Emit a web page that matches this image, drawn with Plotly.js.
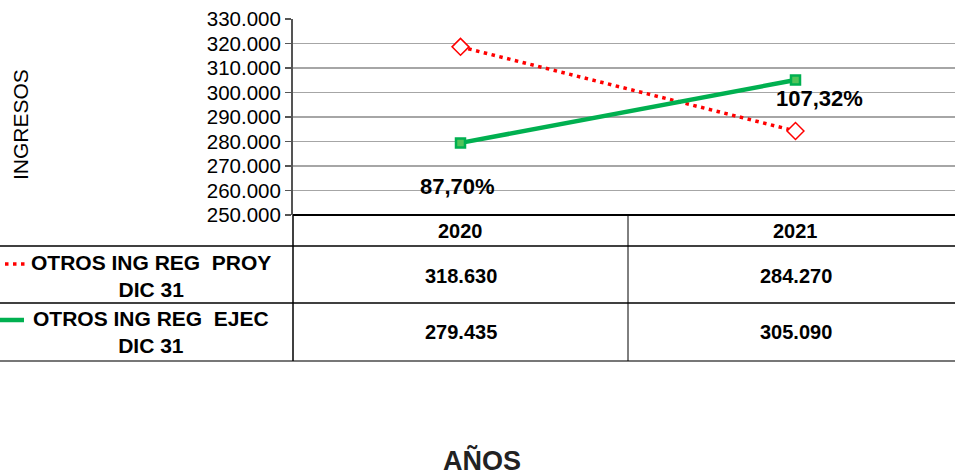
<!DOCTYPE html>
<html>
<head>
<meta charset="utf-8">
<script src="https://cdn.plot.ly/plotly-3.0.1.min.js"></script>
<style>html,body{margin:0;padding:0;background:#fff;}#chart{width:955px;height:475px;}</style>
</head>
<body>
<div id="chart"></div>
<script>
// ---- data ----
const categories = ['2020', '2021'];
const seriesNames = ['OTROS ING REG&nbsp; PROY<br>DIC 31', 'OTROS ING REG&nbsp; EJEC<br>DIC 31'];
const proyValues = [318630, 284270];
const ejecValues = [279435, 305090];
const pctLabels = ['87,70%', '107,32%'];
const yTickValues = [250000, 260000, 270000, 280000, 290000, 300000, 310000, 320000, 330000];

// ---- layout geometry (pixels) ----
const W = 955, H = 475;
const mL = 293, mR = 0, mT = 19, mB = 260;
const pw = W - mL - mR, ph = H - mT - mB;
const px = v => (v - mL) / pw;      // pixel x -> paper
const py = v => (H - mB - v) / ph;  // pixel y -> paper

const fmt = n => n.toString().replace(/\B(?=(\d{3})+(?!\d))/g, '.');
const FONT = 'Liberation Sans, Arial, sans-serif';

const traces = [
  {
    x: categories, y: proyValues, type: 'scatter', mode: 'lines+markers',
    line: {color: '#ff0000', width: 3.5, dash: '3.5px,4.5px'},
    marker: {symbol: 'diamond', size: 13, color: '#ffffff', line: {width: 1.5, color: '#ff0000'}},
    hoverinfo: 'skip', showlegend: false
  },
  {
    x: categories, y: ejecValues, type: 'scatter', mode: 'lines+markers',
    line: {color: '#00b050', width: 4.5},
    marker: {symbol: 'square', size: 9, color: '#52c45a', line: {width: 2.5, color: '#00b050'}},
    hoverinfo: 'skip', showlegend: false
  }
];

const shapes = [];
const annotations = [];
const black = '#000';

// table lines
[246, 303].forEach(y => shapes.push({type: 'line', xref: 'paper', yref: 'paper', x0: px(0), x1: px(W), y0: py(y), y1: py(y), line: {color: black, width: 1.5}}));
shapes.push({type: 'line', xref: 'paper', yref: 'paper', x0: px(0), x1: px(W), y0: py(361), y1: py(361), line: {color: '#777', width: 2}});
shapes.push({type: 'line', xref: 'paper', yref: 'paper', x0: px(293), x1: px(293), y0: py(215), y1: py(361), line: {color: black, width: 1.5}});
shapes.push({type: 'line', xref: 'x', yref: 'paper', x0: 0.5, x1: 0.5, y0: py(215), y1: py(361), line: {color: black, width: 1}});
// bottom axis line
shapes.push({type: 'line', xref: 'paper', yref: 'paper', x0: 0, x1: 1, y0: 0, y1: 0, line: {color: black, width: 2}});

// legend samples
shapes.push({type: 'line', xref: 'paper', yref: 'paper', x0: px(5), x1: px(26), y0: py(264), y1: py(264), line: {color: '#ff0000', width: 3.5, dash: '3.5px,4.5px'}});
shapes.push({type: 'line', xref: 'paper', yref: 'paper', x0: px(0), x1: px(24), y0: py(320), y1: py(320), line: {color: '#00b050', width: 4.5}});

// header row: categories
categories.forEach((c, i) => annotations.push({
  xref: 'x', yref: 'paper', x: i, y: py(231), text: '<b>' + c + '</b>', showarrow: false,
  font: {family: FONT, size: 20, color: black}, xanchor: 'center', yanchor: 'middle'
}));
// series rows
const rowCenters = [275.5, 331.5];
[proyValues, ejecValues].forEach((vals, r) => {
  annotations.push({
    xref: 'paper', yref: 'paper', x: px(151), y: py(rowCenters[r]), text: '<b>' + seriesNames[r] + '</b>',
    showarrow: false, align: 'center', xanchor: 'center', yanchor: 'middle',
    font: {family: FONT, size: 21, color: black}
  });
  vals.forEach((v, i) => annotations.push({
    xref: 'x', yref: 'paper', x: i, y: py(rowCenters[r]), text: '<b>' + fmt(v) + '</b>', showarrow: false,
    font: {family: FONT, size: 20, color: black}, xanchor: 'center', yanchor: 'middle'
  }));
});

// percentage labels anchored to the executed series
const pctShift = [[-3, -44], [24, -18]];
ejecValues.forEach((v, i) => annotations.push({
  xref: 'x', yref: 'y', x: i, y: v, text: '<b>' + pctLabels[i] + '</b>', showarrow: false,
  xshift: pctShift[i][0], yshift: pctShift[i][1], xanchor: 'center', yanchor: 'middle',
  font: {family: FONT, size: 22, color: black}
}));

// y axis title
annotations.push({
  xref: 'paper', yref: 'paper', x: px(20), y: py(125), text: 'INGRESOS', textangle: -90, showarrow: false,
  xanchor: 'center', yanchor: 'middle', font: {family: FONT, size: 21, color: black}
});
// x axis title
annotations.push({
  xref: 'paper', yref: 'paper', x: px(482), y: py(460), text: '<b>AÑOS</b>', showarrow: false,
  xanchor: 'center', yanchor: 'middle', font: {family: FONT, size: 27, color: '#222'}
});

const layout = {
  width: W, height: H,
  margin: {l: mL, r: mR, t: mT, b: mB, pad: 0},
  paper_bgcolor: '#fff', plot_bgcolor: '#fff',
  separators: ',.',
  showlegend: false,
  font: {family: FONT, color: black},
  xaxis: {
    type: 'category', categoryarray: categories, range: [-0.5, -0.5 + pw / 335],
    showticklabels: false, showgrid: false, zeroline: false, showline: false, ticks: '', fixedrange: true
  },
  yaxis: {
    range: [250000, 330000], tickvals: yTickValues, tickformat: ',d',
    showgrid: true, gridcolor: '#a6a6a6', gridwidth: 1.5, zeroline: false,
    showline: true, linecolor: '#555', linewidth: 2,
    ticks: 'outside', ticklen: 6, tickcolor: '#555', tickwidth: 1.5,
    tickfont: {family: FONT, size: 20.5, color: black}, fixedrange: true
  },
  shapes: shapes,
  annotations: annotations
};

Plotly.newPlot('chart', traces, layout, {staticPlot: true, displayModeBar: false});
</script>
</body>
</html>
